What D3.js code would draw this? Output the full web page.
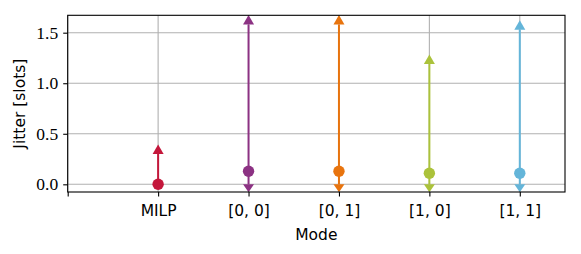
<!DOCTYPE html>
<html lang="en">
<head>
    <meta charset="UTF-8">
    <style>
        body { margin: 0; background: #fff; }
        .ytick text { font-family: "Liberation Serif", "DejaVu Serif", serif; font-size: 17.5px; }
    </style>
</head>
<body>
<script src="https://d3js.org/d3.v7.min.js"></script>
<script>
// data
var modes = ["", "MILP", "[0, 0]", "[0, 1]", "[1, 0]", "[1, 1]"];
var jitterMean = [0.0, 0.13, 0.13, 0.11, 0.11];
var jitterMin = [0.0, 0.0, 0.0, 0.0, 0.0];
var jitterMax = [0.30, 1.58, 1.58, 1.19, 1.53];
var colors = ["#c4173b", "#8c3283", "#e8740e", "#abc23b", "#64b5d9"];
var yTicks = [0.0, 0.5, 1.0, 1.5];

var width = 581;
var height = 254;
var margin = {top: 15.3, right: 16, bottom: 62, left: 67.7};

var svg = d3.select("body")
    .append("svg")
    .attr("width", width)
    .attr("height", height);

var x = d3.scaleLinear().domain([0, 5.5]).range([margin.left, width - margin.right]);
var y = d3.scaleLinear().domain([-0.076, 1.672]).range([height - margin.bottom, margin.top]);

var sans = "'DejaVu Sans', sans-serif";

// grid
svg.append("g")
    .selectAll("line")
    .data(yTicks)
    .enter().append("line")
    .attr("x1", margin.left).attr("x2", width - margin.right)
    .attr("y1", function(d) { return y(d); })
    .attr("y2", function(d) { return y(d); })
    .attr("stroke", "#b0b0b0").attr("stroke-width", 1.1);

svg.append("g")
    .selectAll("line")
    .data(d3.range(modes.length))
    .enter().append("line")
    .attr("x1", function(d) { return x(d); })
    .attr("x2", function(d) { return x(d); })
    .attr("y1", margin.top).attr("y2", height - margin.bottom)
    .attr("stroke", "#b0b0b0").attr("stroke-width", 1.1);

// axes
var xAxis = svg.append("g")
    .attr("transform", "translate(0," + (height - margin.bottom) + ")")
    .call(d3.axisBottom(x)
        .tickValues(d3.range(modes.length))
        .tickFormat(function(d) { return modes[d]; })
        .tickSize(4.5).tickPadding(8));
xAxis.select(".domain").remove();
xAxis.selectAll("text").attr("font-family", sans).attr("font-size", "15.5px").attr("fill", "#000");
xAxis.selectAll("line").attr("stroke", "#000").attr("stroke-width", 1.1);

var yAxis = svg.append("g")
    .attr("class", "ytick")
    .attr("transform", "translate(" + margin.left + ",0)")
    .call(d3.axisLeft(y)
        .tickValues(yTicks)
        .tickFormat(d3.format(".1f"))
        .tickSize(4.5).tickPadding(5));
yAxis.attr("font-family", null).attr("font-size", null);
yAxis.select(".domain").remove();
yAxis.selectAll("text").attr("fill", "#000");
yAxis.selectAll("line").attr("stroke", "#000").attr("stroke-width", 1.1);

// error bars
var pts = jitterMean.map(function(m, i) {
    return {pos: i + 1, mean: m, lo: jitterMin[i], hi: jitterMax[i], color: colors[i]};
});

var bars = svg.append("g").selectAll("g")
    .data(pts)
    .enter().append("g");

bars.append("line")
    .attr("x1", function(d) { return x(d.pos); })
    .attr("x2", function(d) { return x(d.pos); })
    .attr("y1", function(d) { return y(d.lo); })
    .attr("y2", function(d) { return y(d.hi); })
    .attr("stroke", function(d) { return d.color; })
    .attr("stroke-width", 2);

// up carets, base at the max value
bars.append("path")
    .attr("d", function(d) {
        var cx = x(d.pos), cy = y(d.hi);
        return "M" + (cx - 5.5) + "," + cy + "L" + (cx + 5.5) + "," + cy + "L" + cx + "," + (cy - 9.5) + "Z";
    })
    .attr("fill", function(d) { return d.color; });

// down carets, only where the min lies below the mean
bars.filter(function(d) { return d.lo < d.mean; })
    .append("path")
    .attr("d", function(d) {
        var cx = x(d.pos), cy = y(d.lo);
        return "M" + (cx - 5.5) + "," + cy + "L" + (cx + 5.5) + "," + cy + "L" + cx + "," + (cy + 8) + "Z";
    })
    .attr("fill", function(d) { return d.color; });

bars.append("circle")
    .attr("cx", function(d) { return x(d.pos); })
    .attr("cy", function(d) { return y(d.mean); })
    .attr("r", 5.7)
    .attr("fill", function(d) { return d.color; });

// frame
svg.append("rect")
    .attr("x", margin.left).attr("y", margin.top)
    .attr("width", width - margin.left - margin.right)
    .attr("height", height - margin.top - margin.bottom)
    .attr("fill", "none")
    .attr("stroke", "#000").attr("stroke-width", 1.1);

// labels
svg.append("text")
    .attr("x", (margin.left + width - margin.right) / 2)
    .attr("y", 240)
    .attr("text-anchor", "middle")
    .attr("font-family", sans).attr("font-size", "15.5px")
    .text("Mode");

svg.append("text")
    .attr("transform", "translate(25," + ((margin.top + height - margin.bottom) / 2) + ") rotate(-90)")
    .attr("text-anchor", "middle")
    .attr("font-family", sans).attr("font-size", "15.5px")
    .text("Jitter [slots]");
</script>
</body>
</html>
